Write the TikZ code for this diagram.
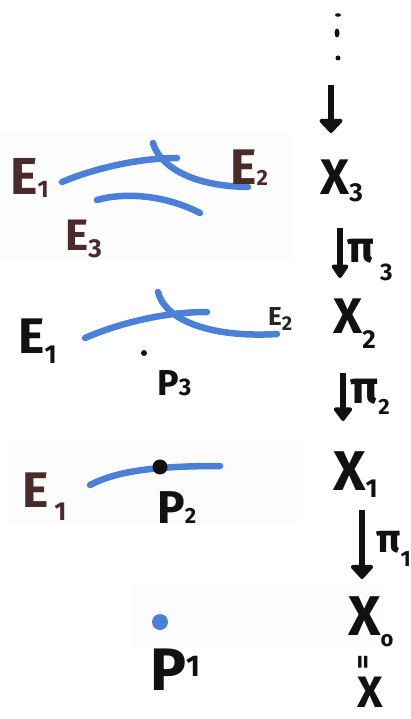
\documentclass[tikz,border=0pt]{standalone}
\usepackage{fontspec}
\setmainfont{Fira Sans}
\usetikzlibrary{arrows.meta}
\definecolor{ink}{HTML}{111111}
\definecolor{brn}{HTML}{4A2A2A}
\definecolor{pen}{HTML}{4A80D8}
\newcommand\fs[1]{\fontsize{#1}{#1}\selectfont}
\newcommand\subx[3]{\raisebox{-#2pt}{\fs{#1}#3}}
\tikzset{
  lbl/.style={anchor=base west,inner sep=0pt,text=ink,font=\bfseries},
  blbl/.style={lbl,text=brn},
  curve/.style={draw=pen,line width=6.5pt,line cap=round},
  mapto/.style={draw=ink,line width=6pt,-{Triangle[width=#1,length=15pt,round]}},
  pane/.style={fill=black!1.2}
}
\begin{document}
\begin{tikzpicture}[x=1pt,y=-1pt]
\useasboundingbox[fill=white] (0,0) rectangle (411,719);
% faint slide panes
\fill[pane] (0,133) rectangle (293,258);
\fill[pane] (8,440) rectangle (297,525);
\fill[pane] (132,585) rectangle (378,647);

% vertical dots
\fill[ink] (338,15) ellipse (3 and 1.8);
\fill[ink] (337,33) ellipse (2.5 and 4.5);
\fill[ink] (338,58) ellipse (2.5 and 2.5);

% right column
\node[lbl] (X3) at (320,195) {\fs{50}X\subx{26}{7}{3}};
\node[lbl] (X2) at (333,333) {\fs{50}X\subx{26}{15}{2}};
\node[lbl] (X1) at (333,490) {\fs{56}X\subx{26}{7}{1}};
\node[lbl] (X0) at (348,635) {\fs{56}X\subx{22}{11}{o}};
\node[lbl,anchor=center,rotate=90] (eq) at (366,662) {\fs{28}=};
\node[lbl] (X) at (357,707) {\fs{44}X};

\node[lbl] (p3) at (347,262) {\fs{44}π\hspace{6pt}\subx{24}{18}{3}};
\node[lbl] (p2) at (350,403) {\fs{46}π\subx{22}{11}{2}};
\node[lbl] (p1) at (376,552) {\fs{40}π\subx{22}{14}{1}};

\coordinate (t0) at (331,85);  \coordinate (h0) at (331,133);
\coordinate (t3) at (340,228); \coordinate (h3) at (340,278);
\coordinate (t2) at (343,373); \coordinate (h2) at (343,421);
\coordinate (t1) at (362,510); \coordinate (h1) at (362,579);
\draw[mapto=27pt] (t0) -- (h0);
\draw[mapto=19pt] (t3) -- (h3);
\draw[mapto=21pt] (t2) -- (h2);
\draw[mapto=26pt] (t1) -- (h1);

% row X3
\draw[curve] (62,182) .. controls (95,168) and (140,158) .. (177,158);
\draw[curve] (153,143) .. controls (158,162) and (185,186) .. (248,187);
\draw[curve] (97,200) .. controls (125,192) and (165,195) .. (200,213);
\node[blbl] (E31) at (10,195) {\fs{52}E\subx{24}{3}{1}};
\node[blbl] (E32) at (230,185) {\fs{50}E\subx{22}{1}{2}};
\node[blbl] (E33) at (65,250) {\fs{44}E\subx{26}{7}{3}};

% row X2
\draw[curve] (85,338) .. controls (115,325) and (160,312) .. (207,312);
\draw[curve] (158,292) .. controls (165,320) and (210,338) .. (277,334);
\node[lbl] (E21) at (18,353) {\fs{50}E\subx{26}{10}{1}};
\node[lbl,text=black!85] (E22) at (268,325) {\fs{26}E\subx{20}{5}{2}};
\fill[ink] (144,353) circle (3);
\node[lbl] (P3) at (157,395) {\fs{36}P\subx{24}{0}{3}};

% row X1
\draw[curve] (90,485) .. controls (115,472) and (150,466) .. (220,466);
\fill[ink] (160,467) circle (7.5);
\node[blbl] (E11) at (22,507) {\fs{50}E\hspace{6pt}\subx{26}{13}{1}};
\node[lbl] (P2) at (157,523) {\fs{46}P\subx{22}{0}{2}};

% row X0
\fill[pen] (160,622) circle (8);
\node[lbl] (P1) at (150,690) {\fs{60}P\raisebox{14pt}{\fs{30}1}};
\end{tikzpicture}
\end{document}
